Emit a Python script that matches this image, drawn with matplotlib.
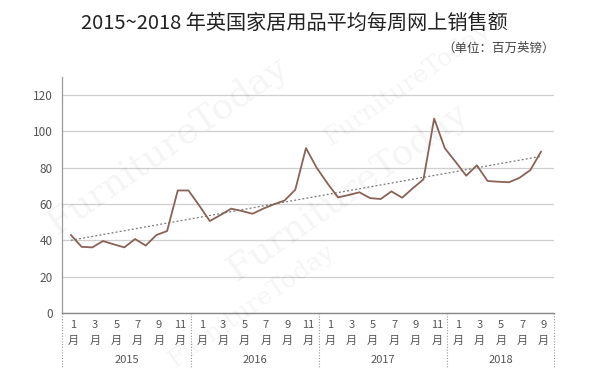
import numpy as np
import matplotlib
matplotlib.use("Agg")
import matplotlib.pyplot as plt
from matplotlib.transforms import blended_transform_factory

plt.rcParams['font.family'] = ['Noto Sans CJK SC', 'DejaVu Sans']

# monthly values, Jan 2015 .. Sep 2018 (million GBP, average per week)
years = ["2015", "2016", "2017", "2018"]
months_per_year = [12, 12, 12, 9]
sales = [
    43, 36.5, 36.2, 39.7, 37.9, 36.2, 40.8, 37.2, 43, 45.2, 67.5, 67.5,      # 2015
    59.3, 50.7, 54, 57.5, 56.2, 54.7, 57.5, 59.9, 62, 67.9, 90.8, 80,        # 2016
    71.5, 63.7, 65, 66.5, 63.3, 62.8, 67, 63.5, 68.7, 73.6, 107, 90.7,       # 2017
    83.3, 75.6, 81.3, 72.7, 72.3, 72, 74.5, 78.7, 88.8,                      # 2018
]
month_labels = ["1", "3", "5", "7", "9", "11"]

x = np.arange(len(sales))
coef = np.polyfit(x, sales, 1)
trend = np.polyval(coef, x)

fig = plt.figure(figsize=(6.0, 3.82), dpi=100)
ax = fig.add_axes([0.104, 0.180, 0.819, 0.619])

ax.plot(x, sales, color="#8a6256", linewidth=1.3, zorder=3)
ax.plot(x, trend, color="#777777", linewidth=0.9, linestyle=(0, (1.5, 1.8)), zorder=2)

ax.set_xlim(-0.8, 45.2)
ax.set_ylim(0, 130)
ax.set_yticks(np.arange(0, 121, 20))
ax.grid(axis="y", color="#cfcfcf", linewidth=0.9)
ax.set_axisbelow(True)
ax.tick_params(axis="y", length=0, labelsize=8.5, labelcolor="#555555", pad=7)
ax.set_xticks([])
for s in ["top", "right"]:
    ax.spines[s].set_visible(False)
ax.spines["left"].set_color("#999999")
ax.spines["bottom"].set_color("#888888")
ax.spines["left"].set_linewidth(0.9)
ax.spines["bottom"].set_linewidth(1.0)

trans = blended_transform_factory(ax.transData, ax.transAxes)
start = 0
bounds = [-0.8]
for yr, n in zip(years, months_per_year):
    for k in range(0, n, 2):
        xi = start + k + 0.25
        ax.text(xi, -0.049, month_labels[k // 2], transform=trans, ha="center", va="center",
                fontsize=8, color="#555555")
        ax.text(xi, -0.117, "月", transform=trans, ha="center", va="center",
                fontsize=8, color="#555555")
    end = start + n + (1 if n < 12 else 0) - 0.8
    ax.text((bounds[-1] + end) / 2, -0.197, yr, transform=trans, ha="center", va="center",
            fontsize=8, color="#555555")
    bounds.append(end)
    start += n

for b in bounds:
    ax.plot([b, b], [0, -0.227], transform=trans, color="#999999", linewidth=0.8,
            linestyle=(0, (1, 1.5)), clip_on=False)

# faint watermark
for (wx, wy, fs) in [(0.28, 0.62, 26), (0.58, 0.50, 26), (0.68, 0.78, 18), (0.42, 0.20, 18)]:
    fig.text(wx, wy, "FurnitureToday", fontsize=fs, family="DejaVu Serif", color="#000000",
             alpha=0.045, rotation=35, ha="center", va="center", zorder=0)

fig.text(0.49, 0.94, "2015~2018 年英国家居用品平均每周网上销售额", ha="center", va="center",
         fontsize=14.5, color="#222222")
fig.text(0.925, 0.873, "（单位：百万英镑）", ha="right", va="center", fontsize=9, color="#444444")

fig.savefig("out.png", dpi=100, facecolor="white")
